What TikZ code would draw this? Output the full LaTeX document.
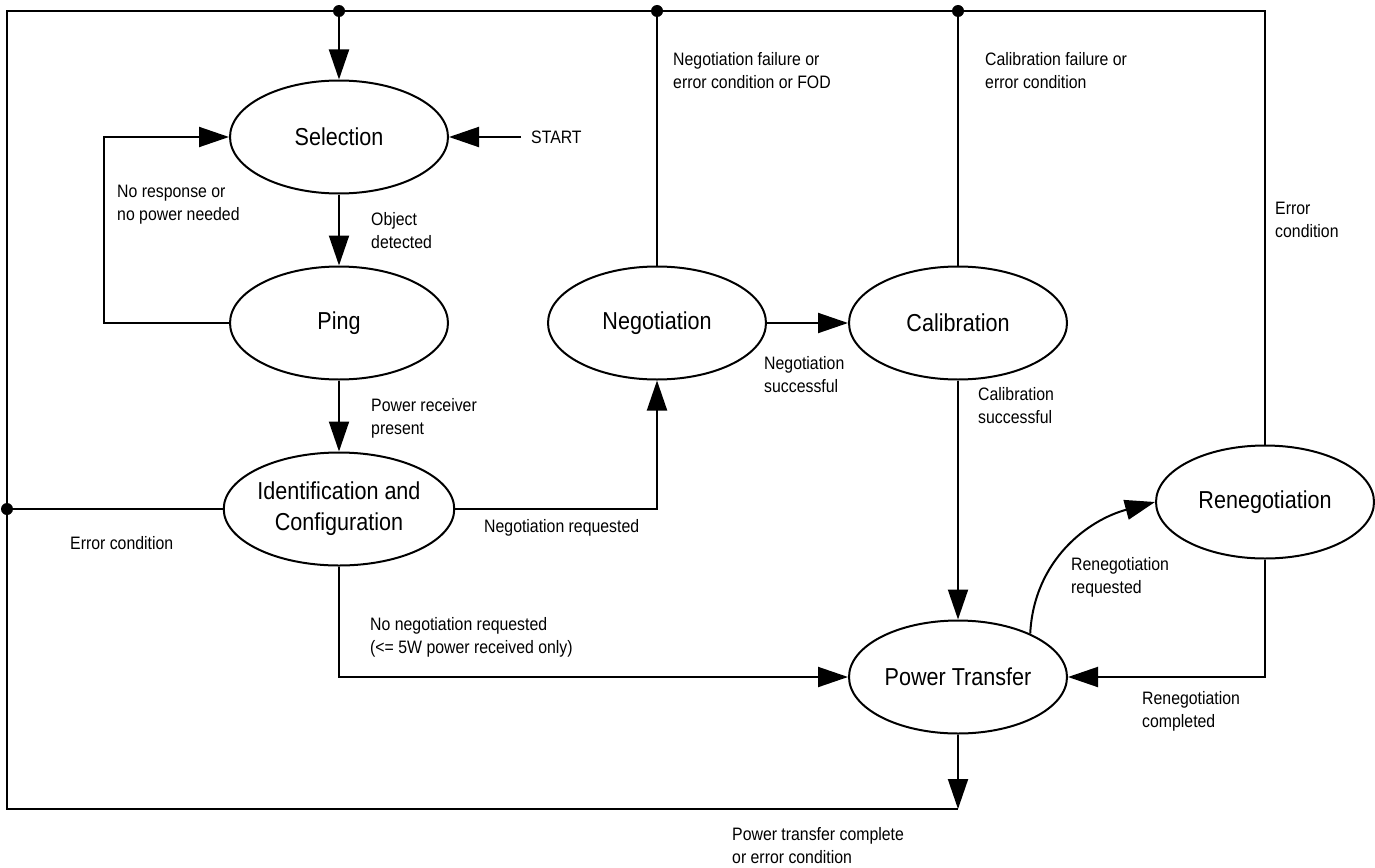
\documentclass[tikz,border=0pt]{standalone}
\usepackage{fontspec}
\setmainfont[FakeStretch=0.88]{Liberation Sans}
\usetikzlibrary{shapes.geometric,arrows.meta}
\tikzset{
  state/.style={draw, ellipse, line width=2pt, minimum width=218pt, minimum height=113pt, inner sep=0pt, align=center, font=\fontsize{24.5}{31}\selectfont},
  lbl/.style={anchor=west, inner sep=0pt, align=left, font=\fontsize{18}{23}\selectfont},
  conn/.style={line width=2pt},
  arr/.style={line width=2pt, -{Triangle[length=30pt,width=20pt]}},
  junction/.style={fill=black, circle, inner sep=0pt, minimum size=12pt}
}
\begin{document}
\begin{tikzpicture}[x=1pt,y=-1pt]
\useasboundingbox (0,0) rectangle (1375,867);
% states
\node[state] (sel) at (339,137) {Selection};
\node[state] (ping) at (339,323) {Ping};
\node[state] (idc) at (339,509) {Identification and\\Configuration};
\node[state] (neg) at (657,323) {Negotiation};
\node[state] (cal) at (958,323) {Calibration};
\node[state] (ren) at (1265,502) {Renegotiation};
\node[state] (pt) at (958,677) {Power Transfer};
% frame coordinates
\coordinate (tl) at (7,11);
\coordinate (tr) at (1265,11);
\coordinate (bl) at (7,809);
\coordinate (br) at (958,809);
\coordinate (lp) at (104,323);
\coordinate (st) at (521,137);
\coordinate (nj) at (657,509);
\coordinate (pc) at (339,677);
\coordinate (rc) at (1265,677);
\node[junction] (d1) at (339,11) {};
\node[junction] (d2) at (657,11) {};
\node[junction] (d3) at (958,11) {};
\node[junction] (d4) at (7,509) {};
% frame
\draw[conn] (ren.north) -- (tr) -- (tl) -- (bl) -- (br);
\draw[arr] (pt.south) -- (br);
\draw[arr] (d1.center) -- (sel.north);
\draw[conn] (neg.north) -- (d2.center);
\draw[conn] (cal.north) -- (d3.center);
\draw[conn] (idc.west) -- (d4.center);
% connectors
\draw[arr] (st) -- (sel.east);
\node[lbl] (startl) at (531,137) {START};
\draw[arr] (ping.west) -- (lp) |- (sel.west);
\draw[arr] (sel.south) -- (ping.north);
\draw[arr] (ping.south) -- (idc.north);
\draw[arr] (idc.east) -- (nj) -- (neg.south);
\draw[arr] (neg.east) -- (cal.west);
\draw[arr] (cal.south) -- (pt.north);
\draw[arr] (idc.south) -- (pc) -- (pt.west);
\draw[arr] (pt.31) .. controls (1034,560) and (1088,520) .. (ren.west);
\draw[arr] (ren.south) -- (rc) -- (pt.east);
% labels
\node[lbl] (l1) at (117,204.5) {No response or\\no power needed};
\node[lbl] (l2) at (371,230.5) {Object\\detected};
\node[lbl] (l3) at (371,418.5) {Power receiver\\present};
\node[lbl] (l4) at (673,71) {Negotiation failure or\\error condition or FOD};
\node[lbl] (l5) at (985,70.5) {Calibration failure or\\error condition};
\node[lbl] (l6) at (1275,220) {Error\\condition};
\node[lbl] (l7) at (764,374.5) {Negotiation\\successful};
\node[lbl] (l8) at (978,405.5) {Calibration\\successful};
\node[lbl] (l9) at (70,543) {Error condition};
\node[lbl] (l10) at (484,528) {Negotiation requested};
\node[lbl] (l11) at (370,637) {No negotiation requested\\(<= 5W power received only)};
\node[lbl] (l12) at (1071,577.5) {Renegotiation\\requested};
\node[lbl] (l13) at (1142,711.5) {Renegotiation\\completed};
\node[lbl] (l14) at (732,845.5) {Power transfer complete\\or error condition};
\end{tikzpicture}
\end{document}
